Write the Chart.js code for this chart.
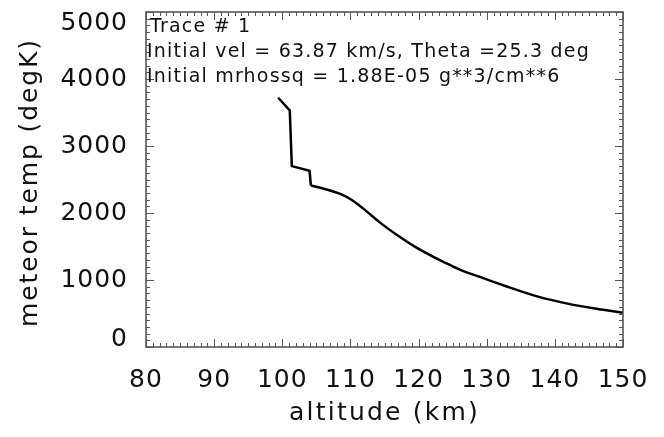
<!DOCTYPE html>
<html>
<head>
<meta charset="utf-8">
<title>meteor temp vs altitude</title>
<script src="https://cdn.jsdelivr.net/npm/chart.js@4"></script>
<style>
  html, body { margin: 0; padding: 0; background: #fff; }
  canvas { display: block; }
</style>
</head>
<body>
<canvas id="tempChart" width="664" height="437"></canvas>
<script>
// trace #1 - meteor temperature along the path
const altitude = [99.4, 101.1, 101.4, 104.0, 104.2, 106.5, 108.5, 110.2, 111.9, 114.3, 117.0,
                  119.5, 122.4, 124.6, 126.3, 129.3, 132.6, 137.4, 142.2, 147.1, 150.0];
const temperature = [3720, 3530, 2700, 2630, 2410, 2350, 2285, 2195, 2065, 1860, 1660,
                     1495, 1335, 1225, 1145, 1035, 915, 755, 640, 555, 510];
const stepEnd = 4; // ablation steps end here, smooth cooling after

const xTicks = [80, 90, 100, 110, 120, 130, 140, 150];
const yTicks = [0, 1000, 2000, 3000, 4000, 5000];
const xMinorStep = 1;
const yMinorStep = 100;

const xTitle = 'altitude (km)';
const yTitle = 'meteor temp (degK)';
const infoLines = [
    'Trace # 1',
    'Initial vel = 63.87 km/s, Theta =25.3 deg',
    'Initial mrhossq = 1.88E-05 g**3/cm**6'
];

const toPoints = (from, to) => altitude.slice(from, to).map((a, i) => ({ x: a, y: temperature[from + i] }));

const FONT = '"DejaVu Sans", sans-serif';

// box frame, inward ticks on all four sides, labels and titles
const framePlugin = {
    id: 'frame',
    afterDraw(chart) {
        const { ctx, chartArea: a, scales: { x, y } } = chart;
        ctx.save();
        ctx.strokeStyle = '#555';
        ctx.lineWidth = 1.6;
        ctx.strokeRect(a.left, a.top, a.right - a.left, a.bottom - a.top);

        ctx.lineWidth = 1;
        ctx.beginPath();
        for (let v = xTicks[0]; v <= xTicks[xTicks.length - 1] + 1e-9; v += xMinorStep) {
            const px = Math.round(x.getPixelForValue(v)) + 0.5;
            const len = xTicks.includes(Math.round(v)) ? 8 : 4;
            ctx.moveTo(px, a.bottom); ctx.lineTo(px, a.bottom - len);
            ctx.moveTo(px, a.top); ctx.lineTo(px, a.top + len);
        }
        for (let v = yTicks[0]; v <= yTicks[yTicks.length - 1]; v += yMinorStep) {
            const py = Math.round(y.getPixelForValue(v)) + 0.5;
            const len = yTicks.includes(v) ? 8 : 4;
            ctx.moveTo(a.left, py); ctx.lineTo(a.left + len, py);
            ctx.moveTo(a.right, py); ctx.lineTo(a.right - len, py);
        }
        ctx.stroke();

        ctx.fillStyle = '#111';
        ctx.font = '25px ' + FONT;
        ctx.letterSpacing = '1px';
        ctx.textAlign = 'center';
        ctx.textBaseline = 'middle';
        xTicks.forEach(v => ctx.fillText(String(v), x.getPixelForValue(v), 380));

        ctx.textAlign = 'right';
        yTicks.forEach(v => {
            let py = y.getPixelForValue(v);
            py = Math.min(Math.max(py, a.top + 11), a.bottom - 8);
            ctx.fillText(String(v), 128, py);
        });

        ctx.letterSpacing = '2.2px';
        ctx.textAlign = 'center';
        ctx.fillText(xTitle, (a.left + a.right) / 2, 413);
        ctx.letterSpacing = '1.9px';
        ctx.save();
        ctx.translate(30, (a.top + a.bottom) / 2 + 3);
        ctx.rotate(-Math.PI / 2);
        ctx.fillText(yTitle, 0, 0);
        ctx.restore();

        ctx.font = '19px ' + FONT;
        ctx.letterSpacing = '1.2px';
        ctx.textAlign = 'left';
        ctx.textBaseline = 'alphabetic';
        infoLines.forEach((t, i) => ctx.fillText(t, a.left + (i === 0 ? 4 : 1), 32 + i * 25));
        ctx.restore();
    }
};

new Chart(document.getElementById('tempChart'), {
    type: 'line',
    data: {
        datasets: [
            {
                data: toPoints(0, stepEnd + 1),
                borderColor: '#000', borderWidth: 2.5, pointRadius: 0, tension: 0
            },
            {
                data: toPoints(stepEnd, altitude.length),
                borderColor: '#000', borderWidth: 2.5, pointRadius: 0,
                cubicInterpolationMode: 'monotone'
            }
        ]
    },
    options: {
        responsive: false,
        animation: false,
        layout: { padding: { left: 146, right: 41, top: 12, bottom: 90 } },
        plugins: { legend: { display: false }, tooltip: { enabled: false } },
        scales: {
            x: { type: 'linear', min: 80, max: 150, display: false },
            y: { type: 'linear', min: 0, max: 5000, display: false }
        }
    },
    plugins: [framePlugin]
});
</script>
</body>
</html>
